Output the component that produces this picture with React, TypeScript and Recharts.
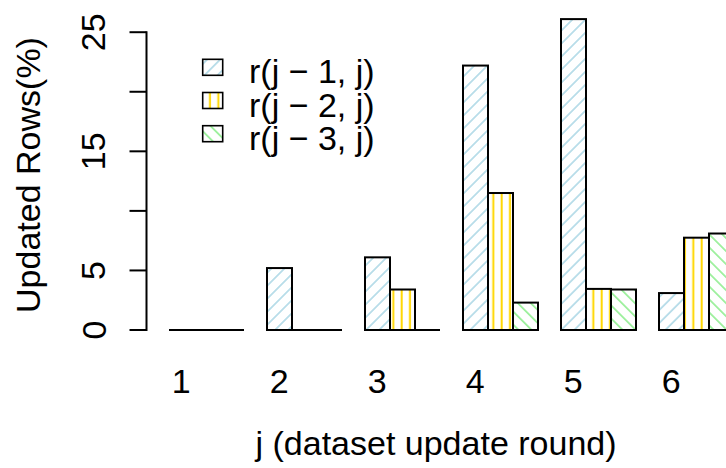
import { BarChart, Bar, XAxis, YAxis, Legend } from "recharts";

// chart values
const ROUNDS = ["1", "2", "3", "4", "5", "6"];
const PREV_1 = [0, 5.2, 6.1, 22.2, 26.1, 3.1];
const PREV_2 = [0, 0, 3.4, 11.5, 3.45, 7.75];
const PREV_3 = [0, 0, 0, 2.3, 3.4, 8.1];
const SERIES_NAMES = ["r(j \u2212 1, j)", "r(j \u2212 2, j)", "r(j \u2212 3, j)"];
const Y_TICKS = [0, 5, 10, 15, 20, 25];
const Y_LABELS = [0, 5, 15, 25];
const Y_MAX = 27.2;
const X_TITLE = "j (dataset update round)";
const Y_TITLE = "Updated Rows(%)";

const data = ROUNDS.map((round, i) => ({
  round,
  s1: PREV_1[i],
  s2: PREV_2[i],
  s3: PREV_3[i],
}));

const FONT = "'Liberation Sans', Arial, sans-serif";
const FONT_SIZE = 34;
const AXIS_X = 146.5;
const TOP = 6;
const PLOT_BOTTOM = 330;
const PPU = (PLOT_BOTTOM - TOP) / Y_MAX;
const BAR_W = 24.5;

function Patterns({ prefix }: { prefix: string }) {
  return (
    <defs>
      <pattern
        id={`${prefix}-1`}
        patternUnits="userSpaceOnUse"
        width={9.2}
        height={9.2}
        patternTransform="rotate(45)"
      >
        <line x1={4.6} y1={0} x2={4.6} y2={9.2} stroke="#ADD8E6" strokeWidth={1.6} />
      </pattern>
      <pattern id={`${prefix}-2`} patternUnits="userSpaceOnUse" width={8.333} height={10}>
        <line x1={1.67} y1={0} x2={1.67} y2={10} stroke="#FFD700" strokeWidth={2} />
      </pattern>
      <pattern
        id={`${prefix}-3`}
        patternUnits="userSpaceOnUse"
        width={9.2}
        height={9.2}
        patternTransform="rotate(-45)"
      >
        <line x1={4.6} y1={0} x2={4.6} y2={9.2} stroke="#90EE90" strokeWidth={1.6} />
      </pattern>
    </defs>
  );
}

function HatchBar(props: any) {
  const { x, y, width, height, fill } = props;
  if (!height) {
    return <line x1={x} x2={x + width} y1={y} y2={y} stroke="#000" strokeWidth={2} />;
  }
  return (
    <rect x={x} y={y} width={width} height={height} fill={fill} stroke="#000" strokeWidth={2} />
  );
}

function YTick(props: any) {
  const { y, payload } = props;
  const v = payload.value;
  const labelX = 105.5;
  return (
    <g>
      <line x1={AXIS_X - 17} x2={AXIS_X} y1={y} y2={y} stroke="#000" strokeWidth={2} />
      {v === 0 && (
        <line
          x1={AXIS_X}
          x2={AXIS_X}
          y1={y + 1}
          y2={y - Y_TICKS[Y_TICKS.length - 1] * PPU - 1}
          stroke="#000"
          strokeWidth={2}
        />
      )}
      {Y_LABELS.includes(v) && (
        <text
          x={labelX}
          y={y}
          transform={`rotate(-90, ${labelX}, ${y})`}
          textAnchor="middle"
          fill="#000"
          fontSize={FONT_SIZE}
          fontFamily={FONT}
        >
          {v}
        </text>
      )}
    </g>
  );
}

function XTick(props: any) {
  const { x, payload } = props;
  // labels sit under the first bar of each group
  return (
    <text
      x={x - BAR_W}
      y={393}
      textAnchor="middle"
      fill="#000"
      fontSize={FONT_SIZE}
      fontFamily={FONT}
    >
      {payload.value}
    </text>
  );
}

function YTitle() {
  return (
    <text
      x={40}
      y={175}
      transform="rotate(-90, 40, 175)"
      textAnchor="middle"
      fill="#000"
      fontSize={FONT_SIZE}
      fontFamily={FONT}
    >
      {Y_TITLE}
    </text>
  );
}

function HatchLegend(props: any) {
  const items = props.payload || [];
  return (
    <svg width={420} height={170} style={{ display: "block" }}>
      <Patterns prefix="leg" />
      {items.map((item: any, i: number) => (
        <g key={item.value}>
          <rect
            x={202.7}
            y={59.3 + 33.2 * i}
            width={20}
            height={16}
            fill={`url(#leg-${i + 1})`}
            stroke="#000"
            strokeWidth={1.6}
          />
          <text
            x={249}
            y={83.3 + 33.2 * i}
            fill="#000"
            fontSize={FONT_SIZE}
            fontFamily={FONT}
          >
            {item.value}
          </text>
        </g>
      ))}
    </svg>
  );
}

export default function App() {
  return (
    <div
      style={{
        position: "absolute",
        left: 0,
        top: 0,
        width: 726,
        height: 468,
        overflow: "hidden",
        background: "#fff",
      }}
    >
      <BarChart
        width={760}
        height={468}
        data={data}
        margin={{ top: TOP, right: 15.25, bottom: 0, left: 0 }}
        barCategoryGap={12.25}
        barGap={0}
      >
        <Patterns prefix="pat" />
        <XAxis
          dataKey="round"
          height={138}
          padding={{ left: 10.25, right: 0 }}
          axisLine={false}
          tickLine={false}
          interval={0}
          tick={<XTick />}
          label={{
            value: X_TITLE,
            position: "insideBottom",
            offset: 13,
            dx: -9.6,
            fill: "#000",
            fontSize: FONT_SIZE,
            fontFamily: FONT,
          }}
        />
        <YAxis
          width={AXIS_X}
          domain={[0, Y_MAX]}
          ticks={Y_TICKS}
          interval={0}
          axisLine={false}
          tickLine={false}
          tick={<YTick />}
          label={<YTitle />}
        />
        <Legend
          layout="horizontal"
          verticalAlign="middle"
          align="center"
          wrapperStyle={{ left: 0, top: 0, width: 420, height: 170 }}
          content={<HatchLegend />}
        />
        <Bar dataKey="s1" name={SERIES_NAMES[0]} fill="url(#pat-1)" shape={<HatchBar />} isAnimationActive={false} />
        <Bar dataKey="s2" name={SERIES_NAMES[1]} fill="url(#pat-2)" shape={<HatchBar />} isAnimationActive={false} />
        <Bar dataKey="s3" name={SERIES_NAMES[2]} fill="url(#pat-3)" shape={<HatchBar />} isAnimationActive={false} />
      </BarChart>
    </div>
  );
}
